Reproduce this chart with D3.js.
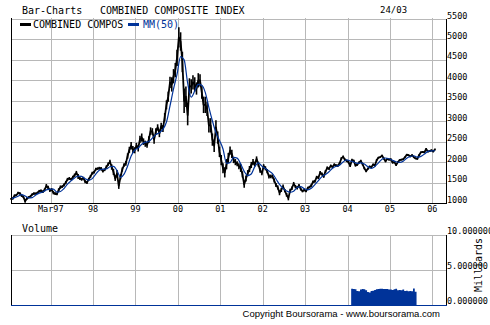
<!DOCTYPE html>
<html><head><meta charset="utf-8">
<script src="https://cdn.jsdelivr.net/npm/d3@7"></script>
<style>
html,body{margin:0;padding:0;background:#fff;}
svg{display:block;}
</style></head>
<body>
<svg id="chart" width="490" height="325" font-family="DejaVu Sans Mono, monospace"></svg>
<script>
// ---------- DATA ----------
const startDate = "1996-03-24";
const endDate = "2006-03-24";
// semi-monthly closes (241 points, evenly spaced from startDate to endDate)
const closeValues = [
1100,1110,1180,1190,1245,1235,1180,1150,1045,1110,1140,1160,1210,1230,1230,1250,1290,1300,1275,
1320,1420,1380,1310,1330,1250,1230,1220,1320,1390,1400,1440,1500,1580,1600,1580,1630,1680,1740,1650,1600,1580,1610,1520,
1500,1580,1650,1730,1750,1830,1840,1850,1840,1780,1810,1880,1950,2010,1880,1760,1600,1720,1420,1640,1820,1930,1970,2150,
2300,2400,2310,2290,2400,2340,2560,2600,2500,2450,2420,2550,2760,2750,2550,2750,2850,2700,2880,2820,3100,3400,3600,3950,
3900,4100,4250,4550,5050,4950,4450,3500,3600,3150,3850,3850,3950,3900,3800,4000,4000,3700,3400,3400,3300,2900,2900,2550,
2400,2850,2600,2250,2050,1850,1750,1950,2100,2280,2200,2050,2000,1960,1900,1860,1700,1450,1600,1730,1830,1930,2000,1950,
2080,1950,1800,1730,1900,1850,1780,1650,1650,1650,1550,1440,1380,1250,1320,1400,1300,1200,1120,1300,1360,1470,1400,1370,
1430,1340,1290,1320,1290,1370,1390,1430,1520,1530,1630,1620,1740,1710,1650,1770,1860,1840,1910,1880,1940,1920,1910,1970,
2090,2130,2060,2030,2000,1910,2050,2030,1920,1940,1990,2030,1950,1850,1780,1840,1890,1880,1940,1920,2050,2110,2120,2160,
2090,2020,2080,2060,2070,1990,2000,1930,2000,2050,2060,2070,2120,2180,2170,2140,2170,2120,2090,2080,2170,2240,2250,2240,
2320,2260,2270,2290,2260,2310
];
// high-low range around each close (index points)
const rangeValues = [
40,50,60,50,60,50,60,60,80,60,50,50,50,60,50,50,60,60,60,
70,90,80,80,70,80,70,60,80,80,60,70,80,70,70,60,70,80,90,120,80,70,60,70,
70,70,60,70,60,70,60,70,80,70,60,80,80,90,130,150,120,180,150,120,100,90,120,130,
150,180,170,150,140,160,170,200,160,150,140,160,180,160,200,160,150,180,160,170,200,220,250,280,
350,350,350,400,500,450,500,600,500,500,400,350,350,350,300,350,300,300,400,400,350,350,350,300,
300,350,300,250,250,250,250,250,250,200,200,150,150,120,150,200,150,150,150,150,150,150,150,120,
120,120,120,100,100,100,100,100,90,100,100,100,100,120,100,100,80,90,110,100,90,90,80,80,
70,70,60,60,60,60,60,70,60,70,70,70,80,70,70,70,70,60,60,60,60,60,50,60,
60,60,60,60,60,60,60,60,60,60,50,60,60,50,50,50,50,50,50,50,50,40,40,40,
50,50,40,40,40,50,50,50,40,40,40,40,40,40,40,40,40,40,40,40,40,40,40,40,
50,50,40,40,40,40
];
// MM(50) read monthly (121 points, evenly spaced from startDate to endDate)
const mmValues = [
1100,1130,1165,1206,1171,1125,1133,1194,1242,1269,
1321,1341,1338,1268,1282,1354,1462,1540,1614,1656,1650,1592,
1558,1596,1708,1800,1828,1832,1886,1896,1794,1628,1706,1902,
2150,2290,2348,2438,2490,2504,2586,2672,2720,2800,2980,3374,
3790,4150,4580,4500,3930,3590,3740,3900,3880,3700,3340,3010,
2720,2530,2320,1970,1986,2116,2098,1954,1774,1668,1708,1888,
1982,1902,1846,1782,1716,1588,1454,1358,1294,1264,1290,1380,
1402,1350,1322,1360,1448,1546,1646,1698,1766,1852,1898,1924,
2004,2056,2026,2004,1970,1982,1952,1890,1848,1894,1980,2072,
2100,2082,2044,2010,1994,2022,2096,2136,2156,2120,2140,2196,
2262,2276,2278
];
// volume (milliards), semi-monthly from volStart
const volStart = "2004-04-01";
const volValues = [2.33,2.30,2.25,2.0,1.95,2.2,2.3,2.25,2.1,1.85,1.8,2.0,2.05,2.15,2.25,2.3,2.33,2.33,2.3,2.3,
2.28,2.2,2.2,2.15,2.25,2.33,2.1,2.15,2.1,2.2,2.0,2.05,1.95,2.0,1.95,2.35,1.9,1.2];
const xTickDates = ["1997-03-01","1998-03-01","1999-03-01","2000-03-01","2001-03-01","2002-03-01","2003-03-01","2004-03-01","2005-03-01","2006-03-01"];
const xTickLabels = ["Mar97","98","99","00","01","02","03","04","05","06"];
const yTicks = [1000,1500,2000,2500,3000,3500,4000,4500,5000,5500];
const volTicks = [0,5,10];
const volTickLabels = ["0.000000","5.000000","10.000000"];

// ---------- DRAW ----------
const svg = d3.select("#chart");
const parse = d3.utcParse("%Y-%m-%d");
const t0 = parse(startDate), t1 = parse(endDate);
const x = d3.scaleUtc().domain([t0, t1]).range([11, 435]);
const y = d3.scaleLinear().domain([1000, 5500]).range([203, 19]);
const yv = d3.scaleLinear().domain([0, 10]).range([305, 235]);
const L = 11, R = 446;
const grid = "#b8b8b8", blue = "#003399";

const dateAt = (i, n) => new Date(t0.getTime() + (t1 - t0) * i / (n - 1));
const closeData = closeValues.map((v, i) => ({d: dateAt(i, closeValues.length), v, r: rangeValues[i] || 0}));
const mmData = mmValues.map((v, i) => ({d: dateAt(i, mmValues.length), v}));
const vs = parse(volStart);
const volStep = (t1 - t0) / (closeValues.length - 1);
const volData = volValues.map((v, i) => ({d: new Date(vs.getTime() + volStep * i), v}));

// main panel grid
const tickX = xTickDates.map(parse);
const g = svg.append("g").attr("shape-rendering", "crispEdges");
g.selectAll(".vg").data(tickX).join("line")
  .attr("x1", d => Math.round(x(d)) + 0.5).attr("x2", d => Math.round(x(d)) + 0.5)
  .attr("y1", 18).attr("y2", 203).attr("stroke", grid);
g.selectAll(".hg").data(yTicks.filter(d => d > 1000)).join("line")
  .attr("x1", L).attr("x2", R)
  .attr("y1", d => Math.round(y(d)) + 0.5).attr("y2", d => Math.round(y(d)) + 0.5).attr("stroke", grid);

// volume panel grid
g.selectAll(".vg2").data(tickX).join("line")
  .attr("x1", d => Math.round(x(d)) + 0.5).attr("x2", d => Math.round(x(d)) + 0.5)
  .attr("y1", 235).attr("y2", 305).attr("stroke", grid);
g.selectAll(".hg2").data(volTicks.filter(d => d > 0)).join("line")
  .attr("x1", L).attr("x2", R)
  .attr("y1", d => Math.round(yv(d)) + 0.5).attr("y2", d => Math.round(yv(d)) + 0.5).attr("stroke", grid);

// price: high-low bars + close line
svg.append("g").selectAll("line").data(closeData).join("line")
  .attr("x1", d => x(d.d)).attr("x2", d => x(d.d))
  .attr("y1", d => y(d.v - d.r / 2)).attr("y2", d => y(d.v + d.r / 2))
  .attr("stroke", "#000").attr("stroke-width", 1.6);
svg.append("path").datum(closeData)
  .attr("fill", "none").attr("stroke", "#000").attr("stroke-width", 1.8).attr("stroke-linejoin", "round")
  .attr("d", d3.line().x(d => x(d.d)).y(d => y(d.v)));
svg.append("path").datum(mmData)
  .attr("fill", "none").attr("stroke", blue).attr("stroke-width", 1.2)
  .attr("d", d3.line().curve(d3.curveMonotoneX).x(d => x(d.d)).y(d => y(d.v)));

// volume area
svg.append("path").datum(volData)
  .attr("fill", blue)
  .attr("d", d3.area().curve(d3.curveStepAfter).x(d => x(d.d)).y0(yv(0)).y1(d => yv(d.v)));

// borders
const b = svg.append("g").attr("shape-rendering", "crispEdges");
b.append("line").attr("x1", L + 0.5).attr("x2", L + 0.5).attr("y1", 18).attr("y2", 204).attr("stroke", "#000");
b.append("line").attr("x1", L).attr("x2", R + 1).attr("y1", 203.5).attr("y2", 203.5).attr("stroke", "#000");
b.append("line").attr("x1", R + 0.5).attr("x2", R + 0.5).attr("y1", 19).attr("y2", 204).attr("stroke", "#000");
b.append("line").attr("x1", L + 0.5).attr("x2", L + 0.5).attr("y1", 235).attr("y2", 305).attr("stroke", "#000");
b.append("line").attr("x1", R + 0.5).attr("x2", R + 0.5).attr("y1", 235).attr("y2", 306).attr("stroke", "#000");
b.append("line").attr("x1", L).attr("x2", R + 1).attr("y1", 305.5).attr("y2", 305.5).attr("stroke", blue);

// y labels main
svg.selectAll(".yl").data(yTicks).join("text")
  .attr("x", 447).attr("y", d => y(d) - 0.5)
  .attr("font-size", 8.5).attr("fill", "#000").text(d => d);
// x labels
svg.selectAll(".xl").data(tickX).join("text")
  .attr("x", d => x(d)).attr("y", 212).attr("text-anchor", "middle")
  .attr("font-size", 8.5).attr("fill", "#000").text((d, i) => xTickLabels[i]);
// volume labels (cut at the right edge, as in the reference)
svg.selectAll(".vl").data(volTicks).join("text")
  .attr("x", 447).attr("y", d => yv(d) - 1)
  .attr("font-size", 8.5).attr("fill", "#000").text((d, i) => volTickLabels[i]);
svg.append("text").attr("transform", "translate(482,265) rotate(-90)")
  .attr("text-anchor", "middle").attr("font-size", 10).attr("fill", "#000").text("Milliards");

// titles
svg.append("text").attr("x", 22).attr("y", 14).attr("font-size", 10).text("Bar-Charts");
svg.append("text").attr("x", 100).attr("y", 14).attr("font-size", 10).text("COMBINED COMPOSITE INDEX");
svg.append("text").attr("x", 380).attr("y", 13).attr("font-size", 9).text("24/03");
// legend
svg.append("rect").attr("x", 20).attr("y", 23).attr("width", 11).attr("height", 3).attr("fill", "#000");
svg.append("text").attr("x", 33).attr("y", 28).attr("font-size", 10).text("COMBINED COMPOS");
svg.append("rect").attr("x", 128).attr("y", 23).attr("width", 11).attr("height", 3).attr("fill", blue);
svg.append("text").attr("x", 143).attr("y", 28).attr("font-size", 10).attr("fill", blue).text("MM(50)");
// volume title + copyright
svg.append("text").attr("x", 22).attr("y", 232).attr("font-size", 10).text("Volume");
svg.append("text").attr("x", 440).attr("y", 317).attr("text-anchor", "end")
  .attr("font-family", "Liberation Sans, Arial, sans-serif").attr("font-size", 9.5)
  .text("Copyright Boursorama - www.boursorama.com");
</script>
</body></html>
